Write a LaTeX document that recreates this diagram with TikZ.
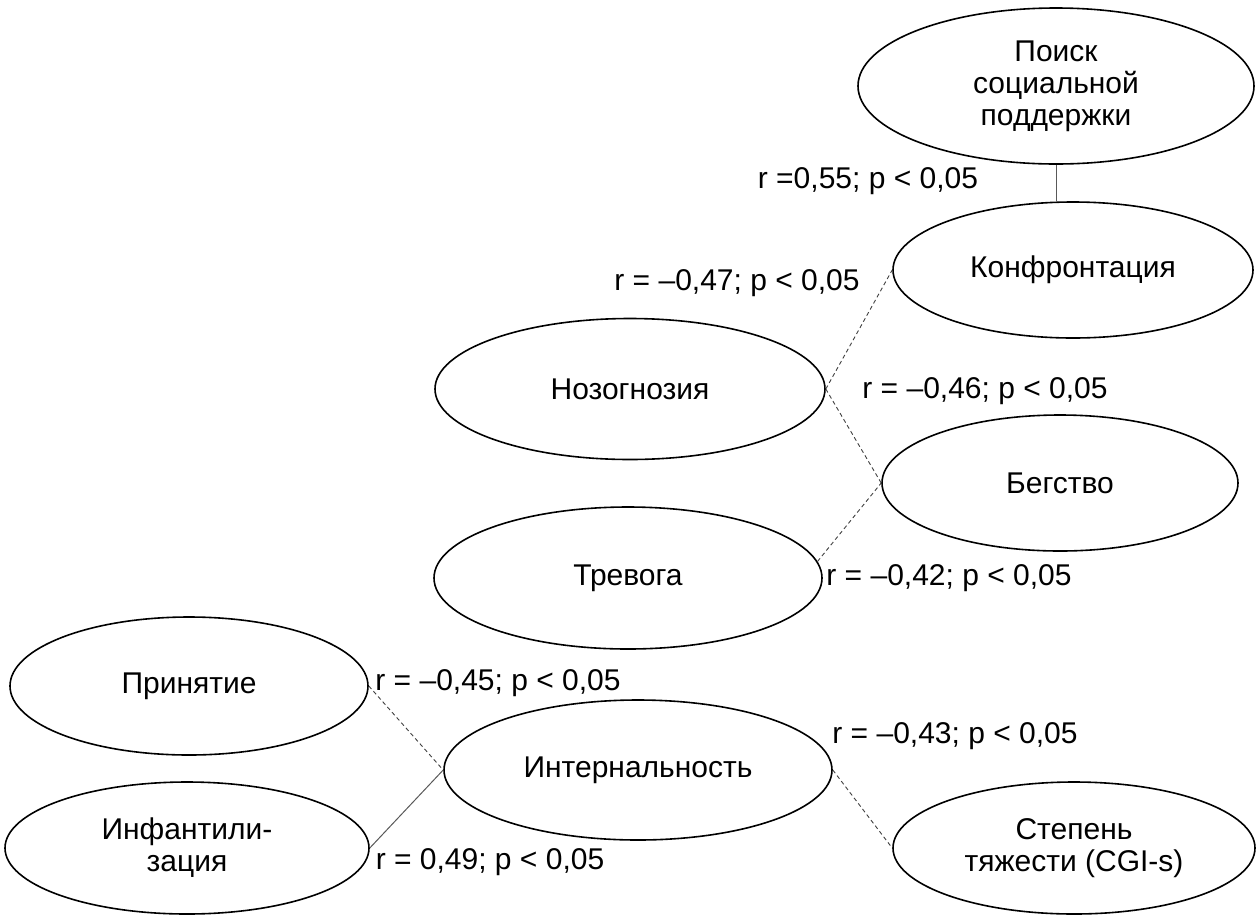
\documentclass[tikz,border=0pt]{standalone}
\usepackage{fontspec}
\setmainfont{Liberation Sans}
\usetikzlibrary{shapes.geometric}

\tikzset{
    every factor/.style={ellipse, draw, line width=1.6pt, inner sep=0pt,
        align=center, font=\fontsize{30}{32}\selectfont},
    neg link/.style={draw=black!75, line width=0.9pt, dash pattern=on 4pt off 3pt},
    pos link/.style={draw=black!65, line width=1pt},
    coef/.style={inner sep=0pt, font=\fontsize{30}{32}\selectfont}
}

\begin{document}
\begin{tikzpicture}[x=1pt, y=-1pt]
        \useasboundingbox (0,0) rectangle (1259,914);

        %%%%%%%%%%%%%%%%%%%%%%%%%%%%%%%%%%%%%%%%%%%%
        % Factors
        %%%%%%%%%%%%%%%%%%%%%%%%%%%%%%%%%%%%%%%%%%%%
        \foreach \n/\t/\x/\y/\w/\h in {
                poisk/{Поиск\\социальной\\поддержки}/1056/86/396/156,
                konfr/Конфронтация/1073/270/360/136,
                nozo/Нозогнозия/630/389/390/141,
                begstvo/Бегство/1060/483/356/136,
                trevoga/Тревога/628/578/388/142,
                prinyatie/Принятие/189/686/358/138,
                intern/Интернальность/638/770/388/140,
                infant/{Инфантили-\\зация}/187/848/364/132,
                stepen/{Степень\\тяжести (CGI-s)}/1074/848/362/132}
            \node [every factor, minimum width=\w, minimum height=\h] (\n) at (\x,\y) {\t};

        %%%%%%%%%%%%%%%%%%%%%%%%%%%%%%%%%%%%%%%%%%%%
        % Connecting
        %%%%%%%%%%%%%%%%%%%%%%%%%%%%%%%%%%%%%%%%%%%%
        \draw [pos link] (poisk.south) -- (poisk.south |- konfr.north);
        \draw [neg link] (nozo.east) -- (konfr.west);
        \draw [neg link] (nozo.east) -- (begstvo.west);
        \draw [neg link] (trevoga.5) -- (begstvo.west);
        \draw [neg link] (prinyatie.east) -- (intern.west);
        \draw [pos link] (infant.east) -- (intern.west);
        \draw [neg link] (intern.east) -- (stepen.west);

        %%%%%%%%%%%%%%%%%%%%%%%%%%%%%%%%%%%%%%%%%%%%
        % Labeling links
        %%%%%%%%%%%%%%%%%%%%%%%%%%%%%%%%%%%%%%%%%%%%
        \foreach \n/\l/\x/\y in {
                r55/{r =0,55; p < 0,05}/868/181,
                r47/{r = –0,47; p < 0,05}/737/283,
                r46/{r = –0,46; p < 0,05}/985/391,
                r42/{r = –0,42; p < 0,05}/949/578,
                r45/{r = –0,45; p < 0,05}/498/683,
                r43/{r = –0,43; p < 0,05}/955/736,
                r49/{r = 0,49; p < 0,05}/490/862}
            \node [coef] (\n) at (\x,\y) {\l};
    \end{tikzpicture}
\end{document}
